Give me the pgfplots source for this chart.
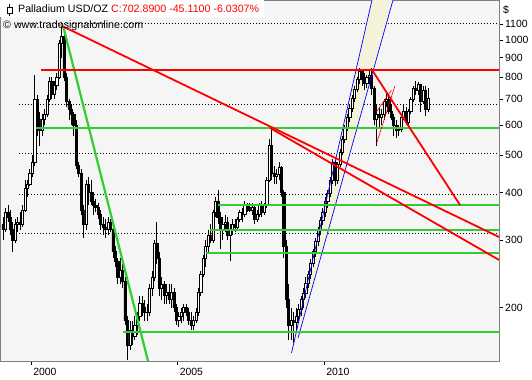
\documentclass[border=0pt]{standalone}
\usepackage{fontspec}
\setmainfont{Liberation Sans}
\usepackage{pgfplots}
\usepackage{pgfplotstable}
\pgfplotsset{compat=1.18}
\definecolor{plotbg}{RGB}{245,245,245}
\definecolor{chgreen}{RGB}{50,205,50}
\definecolor{chred}{RGB}{255,0,0}
\definecolor{chblue}{RGB}{0,0,255}
\definecolor{chbeige}{RGB}{245,242,218}
\definecolor{framegray}{RGB}{128,128,128}

\pgfplotstableread{
t o h l c
1999.042 330 345 300 320
1999.125 320 365 315 355
1999.208 355 370 335 345
1999.292 345 360 310 320
1999.375 320 335 280 300
1999.458 300 340 295 330
1999.542 330 345 315 335
1999.625 335 355 320 330
1999.708 330 370 325 360
1999.792 360 430 355 410
1999.875 410 430 390 420
1999.958 420 460 415 450
2000.042 450 500 440 480
2000.125 480 810 470 700
2000.208 700 720 560 620
2000.292 620 650 530 580
2000.375 580 640 560 620
2000.458 620 660 600 640
2000.542 640 720 630 700
2000.625 700 800 690 780
2000.708 780 800 700 720
2000.792 720 780 700 760
2000.875 760 820 740 800
2000.958 800 1000 790 980
2001.042 980 1090 900 1020
2001.125 1020 1040 780 800
2001.208 800 820 670 690
2001.292 690 700 620 660
2001.375 660 680 600 640
2001.458 640 650 560 600
2001.542 600 620 460 470
2001.625 470 480 440 450
2001.708 450 460 350 360
2001.792 360 370 305 330
2001.875 330 430 320 420
2001.958 420 440 370 400
2002.042 400 430 370 380
2002.125 380 400 350 370
2002.208 370 385 355 365
2002.292 365 375 340 350
2002.375 350 360 320 330
2002.458 330 345 310 325
2002.542 325 340 305 320
2002.625 320 345 310 335
2002.708 335 340 315 320
2002.792 320 330 270 280
2002.875 280 290 255 265
2002.958 265 270 230 240
2003.042 240 270 230 250
2003.125 250 260 225 235
2003.208 235 240 180 185
2003.292 185 190 146 160
2003.375 160 185 155 175
2003.458 175 185 160 168
2003.542 168 190 165 180
2003.625 180 195 170 190
2003.708 190 215 185 205
2003.792 205 215 190 200
2003.875 200 210 185 195
2003.958 195 205 185 195
2004.042 195 230 190 225
2004.125 225 250 215 240
2004.208 240 300 235 295
2004.292 295 335 260 270
2004.375 270 280 215 225
2004.458 225 240 210 230
2004.542 230 235 205 215
2004.625 215 230 205 220
2004.708 220 230 205 210
2004.792 210 230 200 220
2004.875 220 225 195 200
2004.958 200 205 180 185
2005.042 185 195 178 190
2005.125 190 200 182 195
2005.208 195 205 185 200
2005.292 200 205 190 195
2005.375 195 200 180 185
2005.458 185 195 175 180
2005.542 180 190 175 185
2005.625 185 200 182 195
2005.708 195 225 190 220
2005.792 220 250 215 245
2005.875 245 275 240 270
2005.958 270 300 255 290
2006.042 290 320 280 310
2006.125 310 330 295 300
2006.208 300 360 295 355
2006.292 355 390 345 380
2006.375 380 405 330 345
2006.458 345 355 285 320
2006.542 320 345 300 330
2006.625 330 350 315 335
2006.708 335 345 300 310
2006.792 310 330 265 320
2006.875 320 340 310 330
2006.958 330 340 315 325
2007.042 325 345 320 340
2007.125 340 360 335 355
2007.208 355 365 335 350
2007.292 350 380 345 370
2007.375 370 375 355 365
2007.458 365 375 355 360
2007.542 360 375 350 365
2007.625 365 370 330 340
2007.708 340 360 335 350
2007.792 350 375 345 370
2007.875 370 380 345 355
2007.958 355 375 350 370
2008.042 370 440 365 430
2008.125 430 550 425 530
2008.208 530 588 430 450
2008.292 450 470 420 440
2008.375 440 460 420 445
2008.458 445 480 430 465
2008.542 465 470 390 400
2008.625 400 405 270 290
2008.708 290 300 200 210
2008.792 210 230 165 180
2008.875 180 200 165 185
2008.958 185 195 162 183
2009.042 183 200 175 190
2009.125 190 205 182 198
2009.208 198 215 190 210
2009.292 210 225 200 218
2009.375 218 240 212 232
2009.458 232 250 225 245
2009.542 245 268 238 262
2009.625 262 285 255 280
2009.708 280 305 272 298
2009.792 298 325 290 318
2009.875 318 345 310 338
2009.958 338 365 328 355
2010.042 355 390 345 380
2010.125 380 405 365 398
2010.208 398 440 390 430
2010.292 430 490 420 480
2010.375 480 485 415 430
2010.458 430 480 420 475
2010.542 475 520 465 510
2010.625 510 560 500 550
2010.708 550 600 540 590
2010.792 590 640 580 630
2010.875 630 680 610 665
2010.958 665 720 650 705
2011.042 705 760 690 745
2011.125 745 800 730 790
2011.208 790 845 770 830
2011.292 830 840 760 790
2011.375 790 820 740 770
2011.458 770 810 750 800
2011.542 800 835 770 810
2011.625 810 845 720 750
2011.708 750 760 600 620
2011.792 620 680 530 640
2011.875 640 670 590 630
2011.958 630 660 600 640
2012.042 640 700 620 690
2012.125 690 730 670 700
2012.208 700 720 640 650
2012.292 650 680 620 630
2012.375 630 640 560 600
2012.458 600 620 555 580
2012.542 580 600 560 585
2012.625 585 640 575 630
2012.708 630 680 620 650
2012.792 650 670 600 610
2012.875 610 660 600 650
2012.958 650 710 640 700
2013.042 700 760 690 750
2013.125 750 780 720 740
2013.208 740 775 720 765
2013.292 765 770 650 690
2013.375 690 760 680 740
2013.458 740 760 635 660
2013.542 660 750 650 703
}\ohlc

\begin{document}
\begin{tikzpicture}
\useasboundingbox (0,-19bp) rectangle (532bp,361bp);
\pgfplotstablegetrowsof{\ohlc}
\pgfmathtruncatemacro\lastrow{\pgfplotsretval-1}
\begin{axis}[
  scale only axis, width=499bp, height=361bp,
  at={(0,0)}, anchor=south west,
  xmin=1998.94, xmax=2015.97,
  ymode=log, ymin=145.2, ymax=1272,
  axis background/.style={fill=plotbg},
  axis line style={framegray, line width=0.8bp},
  xtick pos=bottom, ytick pos=right,
  tick align=outside, major tick length=4bp,
  tick style={black, line width=0.6bp},
  xminorticks=false, yminorticks=false,
  ytick={200,300,400,500,600,700,800,900,1000,1100},
  yticklabels={200,300,400,500,600,700,800,900,1000,1100},
  xtick={2000,2005,2010},
  xticklabels={2000,2005,2010},
  ticklabel style={font=\fontsize{10.5}{12}\selectfont, black},
  yticklabel style={anchor=west, inner sep=0pt, xshift=2bp},
  xticklabel style={anchor=north west, inner sep=0pt, xshift=2bp, yshift=-3bp},
  clip=true,
]
% dotted grid
\addplot[black, line width=0.8bp, dash pattern=on 0.8bp off 2.2bp, forget plot] coordinates {(1999.59,1106) (2015.97,1106)};
\addplot[black, line width=0.8bp, dash pattern=on 0.8bp off 2.2bp, forget plot] coordinates {(1999.59,681) (2015.97,681)};
\addplot[black, line width=0.8bp, dash pattern=on 0.8bp off 2.2bp, forget plot] coordinates {(1999.59,506) (2015.97,506)};
\addplot[black, line width=0.8bp, dash pattern=on 0.8bp off 2.2bp, forget plot] coordinates {(1999.59,396) (2015.97,396)};
\addplot[black, line width=0.8bp, dash pattern=on 0.8bp off 2.2bp, forget plot] coordinates {(1999.59,312) (2015.97,312)};
% channel fill
\addplot[fill=chbeige, draw=none, forget plot] coordinates {(2008.889,152.4) (2011.636,1272) (2012.353,1272) (2009.111,166.7) (2008.889,152.4)};
% candles
\pgfplotsforeachungrouped \i in {0,...,\lastrow}{%
  \pgfplotstablegetelem{\i}{t}\of\ohlc \let\cT\pgfplotsretval
  \pgfplotstablegetelem{\i}{o}\of\ohlc \let\cO\pgfplotsretval
  \pgfplotstablegetelem{\i}{h}\of\ohlc \let\cH\pgfplotsretval
  \pgfplotstablegetelem{\i}{l}\of\ohlc \let\cL\pgfplotsretval
  \pgfplotstablegetelem{\i}{c}\of\ohlc \let\cC\pgfplotsretval
  \pgfmathsetmacro\tl{\cT-0.037}%
  \pgfmathsetmacro\tr{\cT+0.037}%
  \pgfmathtruncatemacro\up{\cC<\cO ? 0 : 1}%
  \ifnum\up=1 \def\fc{white}\else\def\fc{black}\fi
  \edef\tmp{\noexpand\addplot[black, line width=0.7bp, forget plot] coordinates {(\cT,\cL) (\cT,\cH)};
    \noexpand\addplot[draw=black, fill=\fc, line width=0.55bp, forget plot] coordinates {(\tl,\cO) (\tr,\cO) (\tr,\cC) (\tl,\cC) (\tl,\cO)};}%
  \tmp
}
% channel lines
\addplot[chblue, line width=0.7bp, forget plot] coordinates {(2008.889,152.4) (2011.636,1272)};
\addplot[chblue, line width=0.7bp, forget plot] coordinates {(2009.111,166.7) (2012.353,1272)};
% green lines
\addplot[chgreen, line width=2.2bp, forget plot] coordinates {(2001.100,1083) (2003.991,145.2)};
\addplot[chgreen, line width=2.2bp, forget plot] coordinates {(2000.169,590) (2015.97,590)};
\addplot[chgreen, line width=2.2bp, forget plot] coordinates {(2006.380,371) (2015.97,371)};
\addplot[chgreen, line width=2.2bp, forget plot] coordinates {(2006.107,319) (2015.97,319)};
\addplot[chgreen, line width=2.2bp, forget plot] coordinates {(2005.971,278) (2015.97,278)};
\addplot[chgreen, line width=2.2bp, forget plot] coordinates {(2003.138,172.5) (2015.97,172.5)};
% red lines
\addplot[chred, line width=1.8bp, forget plot] coordinates {(2000.339,836.7) (2015.97,836.7)};
\addplot[chred, line width=1.8bp, forget plot] coordinates {(2001.056,1088) (2015.97,306)};
\addplot[chred, line width=1.8bp, forget plot] coordinates {(2008.155,589.3) (2015.97,266.6)};
\addplot[chred, line width=1.8bp, forget plot] coordinates {(2011.636,835.2) (2014.640,370.9)};
\addplot[chred, line width=0.6bp, forget plot] coordinates {(2011.795,538) (2012.420,760)};
\addplot[chred, line width=0.6bp, forget plot] coordinates {(2011.795,650) (2012.300,740)};
\end{axis}
% header
\fill[white] (0,361bp) rectangle (264bp,344bp);
\draw[black, line width=0.6bp] (9.5bp,357bp) -- (9.5bp,344.5bp);
\draw[black, fill=white, line width=0.6bp] (6.8bp,353.5bp) rectangle (12.2bp,347.5bp);
\node[anchor=base west, inner sep=0pt, font=\fontsize{10.7}{12}\selectfont] at (18bp,348bp) {Palladium USD/OZ \textcolor{chred}{C:702.8900 -45.1100 -6.0307\%}};
\node[anchor=base west, inner sep=0pt, font=\fontsize{10.7}{12}\selectfont] at (3bp,332.5bp) {© www.tradesignalonline.com};
\node[anchor=base west, inner sep=0pt, font=\fontsize{10.5}{12}\selectfont] at (503bp,347bp) {\$};
\end{tikzpicture}
\end{document}
